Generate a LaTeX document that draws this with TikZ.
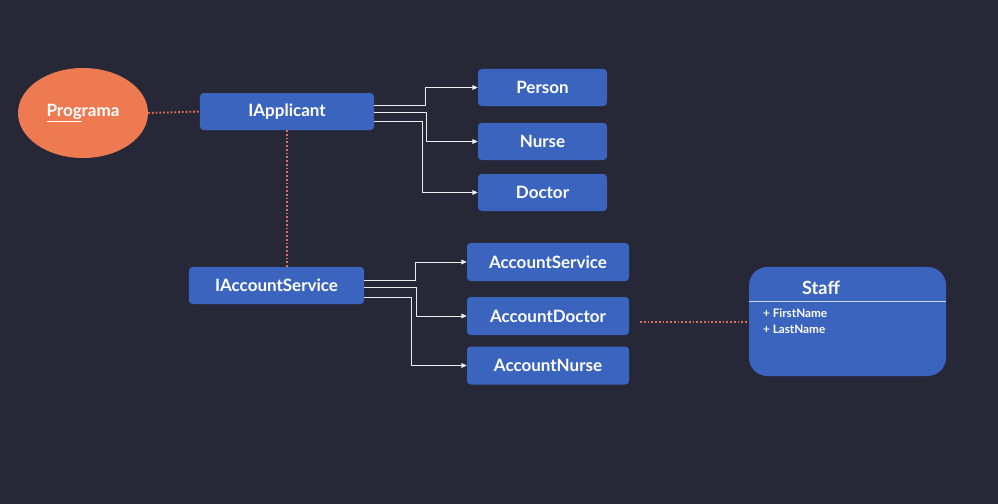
\documentclass[tikz,border=0pt]{standalone}
\usepackage{fontspec}
\setmainfont{Lato}
\usetikzlibrary{arrows.meta,calc,shapes.geometric}
\definecolor{sfondo}{RGB}{38,39,55}
\definecolor{blu}{RGB}{58,100,190}
\definecolor{arancio}{RGB}{238,122,82}
\definecolor{puntini}{RGB}{226,112,84}
\tikzset{
	scatola/.style={draw=none,fill=blu,rounded corners=3pt,text=white,font=\fontsize{14.5}{18}\selectfont\bfseries,inner sep=0pt},
	freccia/.style={draw=white!85!gray,line width=0.6pt,-{Triangle[length=4.5pt,width=4pt]}},
	tratteggio/.style={draw=puntini,line width=1.6pt,dash pattern=on 1.4pt off 1.8pt}
}
\begin{document}
\begin{tikzpicture}[x=0.03cm,y=-0.03cm]
	\fill[sfondo] (0,0) rectangle (998,504);
	% nodi
	\node[ellipse,fill=arancio,minimum width=3.9cm,minimum height=2.7cm,text=white,font=\fontsize{14.5}{18}\selectfont\bfseries] (prog) at (83,113) {\underline{Prog}rama};
	\node[scatola,minimum width=5.22cm,minimum height=1.11cm] (appl) at (287,111.5) {IApplicant};
	\node[scatola,minimum width=3.87cm,minimum height=1.11cm] (person) at (542.5,87.5) {Person};
	\node[scatola,minimum width=3.87cm,minimum height=1.11cm] (nurse) at (542.5,141.5) {Nurse};
	\node[scatola,minimum width=3.87cm,minimum height=1.11cm] (doctor) at (542.5,192.5) {Doctor};
	\node[scatola,minimum width=5.25cm,minimum height=1.11cm] (accserv) at (276.5,285.5) {IAccountService};
	\node[scatola,minimum width=4.86cm,minimum height=1.14cm] (aserv) at (548,262) {AccountService};
	\node[scatola,minimum width=4.86cm,minimum height=1.14cm] (adoc) at (548,316) {AccountDoctor};
	\node[scatola,minimum width=4.86cm,minimum height=1.14cm] (anurse) at (548,365.5) {AccountNurse};
	\node[scatola,rounded corners=0.55cm,minimum width=5.91cm,minimum height=3.27cm] (staff) at (847.5,321.5) {};
	% classe Staff
	\draw[white!75!blu,line width=1pt] ([yshift=-1.05cm]staff.north west) -- ([yshift=-1.05cm]staff.north east);
	\node[text=white,font=\fontsize{15.5}{18}\selectfont\bfseries] (staffnome) at (821,288) {Staff};
	\node[anchor=west,text=white,font=\fontsize{10}{12}\selectfont\bfseries] (nome) at (759,313) {+ FirstName};
	\node[anchor=west,text=white,font=\fontsize{10}{12}\selectfont\bfseries] (cognome) at (759,329) {+ LastName};
	% collegamenti
	\draw[tratteggio] (prog.east) -- (appl.west);
	\draw[tratteggio] (appl.south) -- (appl.south |- accserv.north);
	\draw[tratteggio] ($(adoc.east)+(11,6)$) -- (staff.west |- 0,322);
	\draw[freccia] ($(appl.east)+(0,-6.5)$) -- ++(51,0) |- (person.west);
	\draw[freccia] ($(appl.east)+(0,1)$) -- ++(52,0) |- (nurse.west);
	\draw[freccia] ($(appl.east)+(0,10)$) -- ++(48,0) |- (doctor.west);
	\draw[freccia] ($(accserv.east)+(0,-5.5)$) -- ++(51,0) |- (aserv.west);
	\draw[freccia] ($(accserv.east)+(0,1.5)$) -- ++(52,0) |- (adoc.west);
	\draw[freccia] ($(accserv.east)+(0,11.5)$) -- ++(47,0) |- (anurse.west);
\end{tikzpicture}
\end{document}
